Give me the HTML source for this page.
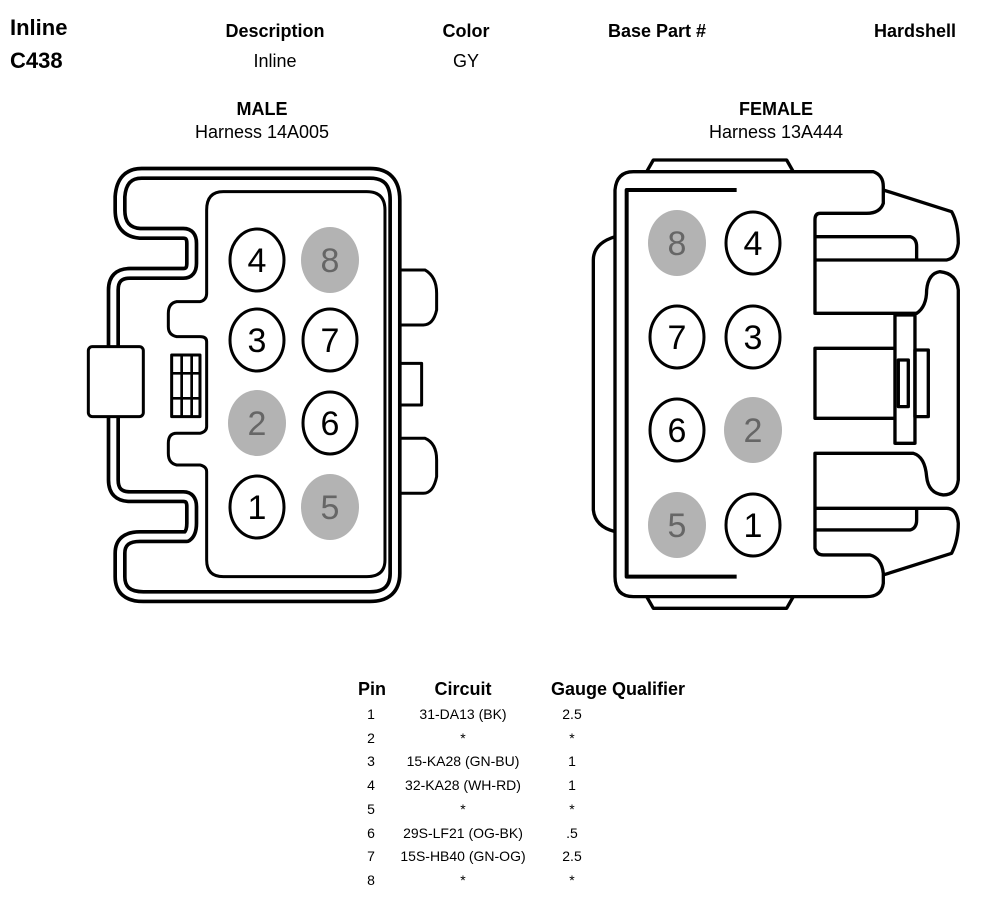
<!DOCTYPE html>
<html><head><meta charset="utf-8"><style>
html,body{margin:0;padding:0;background:#fff;}
svg{display:block;font-family:"Liberation Sans",Arial,sans-serif;}
</style></head><body>
<svg width="998" height="902" viewBox="0 0 998 902" xmlns="http://www.w3.org/2000/svg">
<g font-size="22" font-weight="bold"><text x="10" y="35">Inline</text><text x="10" y="68">C438</text></g>
<g font-size="18" text-anchor="middle">
<text x="275" y="37" font-weight="bold">Description</text><text x="275" y="67">Inline</text>
<text x="466" y="37" font-weight="bold">Color</text><text x="466" y="67">GY</text>
<text x="657" y="37" font-weight="bold">Base Part #</text>
<text x="915" y="37" font-weight="bold">Hardshell</text>
<text x="262" y="115" font-weight="bold">MALE</text><text x="262" y="138">Harness 14A005</text>
<text x="776" y="115" font-weight="bold">FEMALE</text><text x="776" y="138">Harness 13A444</text>
</g>
<!-- MALE -->
<g transform="translate(80,160) scale(0.3333)" fill="none" stroke="#000" stroke-linejoin="round">
<path d="M945,330 L1035,330 Q1070,350 1070,400 L1070,450 Q1060,495 1030,495 L945,495 M945,610 L1025,610 L1025,735 L945,735 M945,835 L1035,835 Q1070,850 1070,900 L1070,950 Q1060,1000 1030,1000 L945,1000" stroke-width="9" fill="#fff"/>
<path id="mo" d="M185,40 L870,40 Q945,40 945,120 L945,1240 Q945,1310 870,1310 L190,1310 Q120,1310 120,1250 L120,1180 Q120,1130 180,1130 L320,1130 Q335,1120 335,1090 L335,1040 Q335,1010 310,1010 L150,1010 Q100,1010 100,960 L100,390 Q100,340 150,340 L310,340 Q335,340 335,310 L335,250 Q335,220 310,220 L180,220 Q120,215 120,150 L120,110 Q125,40 185,40 Z" stroke-width="40" fill="#fff"/>
<path d="M185,40 L870,40 Q945,40 945,120 L945,1240 Q945,1310 870,1310 L190,1310 Q120,1310 120,1250 L120,1180 Q120,1130 180,1130 L320,1130 Q335,1120 335,1090 L335,1040 Q335,1010 310,1010 L150,1010 Q100,1010 100,960 L100,390 Q100,340 150,340 L310,340 Q335,340 335,310 L335,250 Q335,220 310,220 L180,220 Q120,215 120,150 L120,110 Q125,40 185,40 Z" stroke-width="18" stroke="#fff"/>
<path d="M430,95 L860,95 Q915,95 915,150 L915,1200 Q915,1250 860,1250 L430,1250 Q380,1250 380,1200 L380,935 Q380,920 360,915 L290,915 Q265,910 265,880 L265,850 Q265,820 290,820 L360,820 Q380,815 380,800 L380,545 Q380,530 360,530 L290,530 Q265,525 265,500 L265,460 Q265,430 290,425 L360,425 Q380,420 380,400 L380,150 Q380,95 430,95 Z" stroke-width="9" fill="#fff"/>
<rect x="275" y="585" width="85" height="185" stroke-width="9" fill="#fff"/>
<path d="M305,585 L305,770 M335,585 L335,770 M275,640 L360,640 M275,715 L360,715" stroke-width="8"/>
<rect x="25" y="560" width="165" height="210" rx="12" stroke-width="9" fill="#fff"/>
</g>
<!-- FEMALE -->
<g transform="translate(580,150) scale(0.3333)" fill="none" stroke="#000" stroke-width="10" stroke-linejoin="round">
<path d="M200,65 L220,30 L620,30 L640,65 M200,1340 L220,1375 L620,1375 L640,1340"/>
<path d="M105,260 Q40,280 40,330 L40,1080 Q45,1130 105,1145"/>
<path d="M160,65 L880,65 Q910,75 910,110 L910,160 Q900,190 860,190 L720,190 Q705,190 705,210 L705,490 L1010,490 Q1040,470 1040,420 Q1045,370 1080,365 Q1130,370 1135,420 L1135,990 Q1130,1035 1090,1035 Q1045,1030 1040,980 Q1035,920 1000,910 L705,910 L705,1195 Q710,1215 730,1215 L870,1215 Q905,1225 910,1270 L910,1300 Q905,1340 860,1340 L160,1340 Q105,1340 105,1280 L105,120 Q110,65 160,65 Z" fill="#fff"/>
<path d="M470,120 L140,120 L140,1280 L470,1280" stroke-width="12"/>
<path d="M910,120 L1115,185 Q1135,220 1135,280 Q1130,325 1100,330 L705,330 M705,260 L990,260 Q1010,265 1010,290 L1010,330"/>
<path d="M910,1275 L1115,1210 Q1135,1170 1135,1120 Q1130,1075 1100,1075 L705,1075 M705,1140 L990,1140 Q1010,1135 1010,1110 L1010,1075"/>
<path d="M945,595 L705,595 L705,805 L945,805"/>
<rect x="945" y="495" width="60" height="385"/>
<rect x="1005" y="600" width="40" height="200"/>
<rect x="955" y="630" width="30" height="140"/>
</g>
<!-- PINS -->
<g font-size="34" text-anchor="middle">
<g stroke="#000" stroke-width="3" fill="#fff">
<ellipse cx="257" cy="260" rx="27" ry="31"/><ellipse cx="257" cy="340" rx="27" ry="31"/><ellipse cx="330" cy="340" rx="27" ry="31"/><ellipse cx="330" cy="423" rx="27" ry="31"/><ellipse cx="257" cy="507" rx="27" ry="31"/>
<ellipse cx="753" cy="243" rx="27" ry="31"/><ellipse cx="677" cy="337" rx="27" ry="31"/><ellipse cx="753" cy="337" rx="27" ry="31"/><ellipse cx="677" cy="430" rx="27" ry="31"/><ellipse cx="753" cy="525" rx="27" ry="31"/>
</g>
<g fill="#b3b3b3">
<ellipse cx="330" cy="260" rx="29" ry="33"/><ellipse cx="257" cy="423" rx="29" ry="33"/><ellipse cx="330" cy="507" rx="29" ry="33"/>
<ellipse cx="677" cy="243" rx="29" ry="33"/><ellipse cx="753" cy="430" rx="29" ry="33"/><ellipse cx="677" cy="525" rx="29" ry="33"/>
</g>
<text x="257" y="272">4</text><text x="257" y="352">3</text><text x="330" y="352">7</text><text x="330" y="435">6</text><text x="257" y="519">1</text>
<text x="753" y="255">4</text><text x="677" y="349">7</text><text x="753" y="349">3</text><text x="677" y="442">6</text><text x="753" y="537">1</text>
<g fill="#666"><text x="330" y="272">8</text><text x="257" y="435">2</text><text x="330" y="519">5</text>
<text x="677" y="255">8</text><text x="753" y="442">2</text><text x="677" y="537">5</text></g>
</g>
<!-- TABLE -->
<g font-size="18" font-weight="bold" text-anchor="middle">
<text x="372" y="695">Pin</text><text x="463" y="695">Circuit</text><text x="618" y="695">Gauge Qualifier</text>
</g>
<g font-size="14" text-anchor="middle">
<text x="371" y="719">1</text><text x="463" y="719">31-DA13 (BK)</text><text x="572" y="719">2.5</text>
<text x="371" y="743">2</text><text x="463" y="743">*</text><text x="572" y="743">*</text>
<text x="371" y="766">3</text><text x="463" y="766">15-KA28 (GN-BU)</text><text x="572" y="766">1</text>
<text x="371" y="790">4</text><text x="463" y="790">32-KA28 (WH-RD)</text><text x="572" y="790">1</text>
<text x="371" y="814">5</text><text x="463" y="814">*</text><text x="572" y="814">*</text>
<text x="371" y="838">6</text><text x="463" y="838">29S-LF21 (OG-BK)</text><text x="572" y="838">.5</text>
<text x="371" y="861">7</text><text x="463" y="861">15S-HB40 (GN-OG)</text><text x="572" y="861">2.5</text>
<text x="371" y="885">8</text><text x="463" y="885">*</text><text x="572" y="885">*</text>
</g>
</svg>
</body></html>
